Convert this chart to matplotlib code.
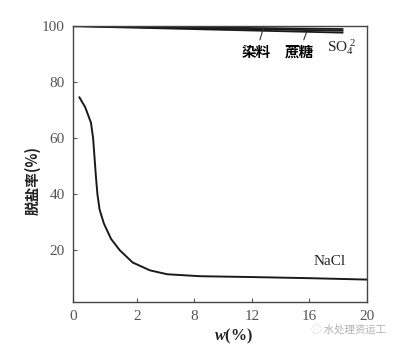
import matplotlib
matplotlib.use("Agg")
import matplotlib.pyplot as plt

# NaCl rejection vs concentration
nacl_w = [0.0, 0.4, 0.8, 0.95, 1.05, 1.15, 1.25, 1.4, 1.7, 2.2, 2.8, 3.7, 4.9, 6.1, 8.4, 12.0, 16.0, 20.0]
nacl_r = [74.5, 71.0, 65.5, 60.0, 53.0, 46.0, 40.0, 34.5, 29.5, 24.0, 20.0, 15.6, 12.8, 11.4, 10.7, 10.4, 10.0, 9.5]

# near-100 % solutes
top_w = [-0.45, 18.3]
dye_r = [100.0, 98.9]
so4_r = [100.0, 98.3]
sugar_r = [99.9, 97.6]

xticks = [-0.45, 4, 8, 12, 16, 20]
xtick_labels = ["0", "2", "8", "12", "16", "20"]
yticks = [20, 40, 60, 80, 100]

serif = ["Liberation Serif", "DejaVu Serif"]
cjk = ["Noto Sans CJK SC", "DejaVu Sans"]

plt.rcParams["mathtext.fontset"] = "custom"
plt.rcParams["mathtext.rm"] = "Liberation Serif"
plt.rcParams["mathtext.it"] = "Liberation Serif:italic:bold"

fig = plt.figure(figsize=(4.17, 3.51), dpi=100)
ax = fig.add_axes([0.175, 0.1396, 0.705, 0.7865])

ax.plot(nacl_w, nacl_r, color="#1a1a1a", lw=1.4)
ax.plot(top_w, dye_r, color="#1a1a1a", lw=1.3)
ax.plot(top_w, so4_r, color="#1a1a1a", lw=1.3)
ax.plot(top_w, sugar_r, color="#1a1a1a", lw=1.3)

ax.set_xlim(-0.45, 20)
ax.set_ylim(1.5, 100)
ax.set_xticks(xticks)
ax.set_xticklabels(xtick_labels, family=serif, fontsize=11, color="#333333")
ax.set_yticks(yticks)
ax.set_yticklabels([str(v) for v in yticks], family=serif, fontsize=11, color="#333333")
ax.tick_params(direction="in", length=3, width=0.8, colors="#555555", pad=6)
for s in ax.spines.values():
    s.set_linewidth(1.0)
    s.set_color("#444444")

# labels with leader lines
ax.annotate("染料", xy=(12.8, 99.3), xytext=(12.3, 90.7), family=cjk,
            fontsize=10.5, fontweight="bold", ha="center", va="center",
            arrowprops=dict(arrowstyle="-", color="#333333", lw=0.8, shrinkA=1, shrinkB=0))
ax.annotate("蔗糖", xy=(15.8, 97.8), xytext=(15.3, 90.7), family=cjk,
            fontsize=10.5, fontweight="bold", ha="center", va="center",
            arrowprops=dict(arrowstyle="-", color="#333333", lw=0.8, shrinkA=1, shrinkB=0))
ax.text(18.2, 92.5, r"SO$_4^{\ 2}$", family=serif, fontsize=11, ha="center", va="center",
        color="#222222")
ax.text(17.4, 16.0, "NaCl", family=serif, fontsize=11, ha="center", va="center",
        color="#222222")

ax.set_ylabel("脱盐率(%)", family=cjk, fontsize=10.5, fontweight="bold", color="#222222")
ax.yaxis.set_label_coords(-0.11, 0.44)
ax.set_xlabel(r"$w$(%)", family=serif, fontsize=11.5, fontweight="bold", color="#222222")
ax.xaxis.set_label_coords(0.545, -0.09)

fig.text(0.745, 0.06, "◌ 水处理资运工", family=cjk, fontsize=7.5, color="#b0b0b0",
         ha="left", va="center")

fig.savefig("out.png", dpi=100)
